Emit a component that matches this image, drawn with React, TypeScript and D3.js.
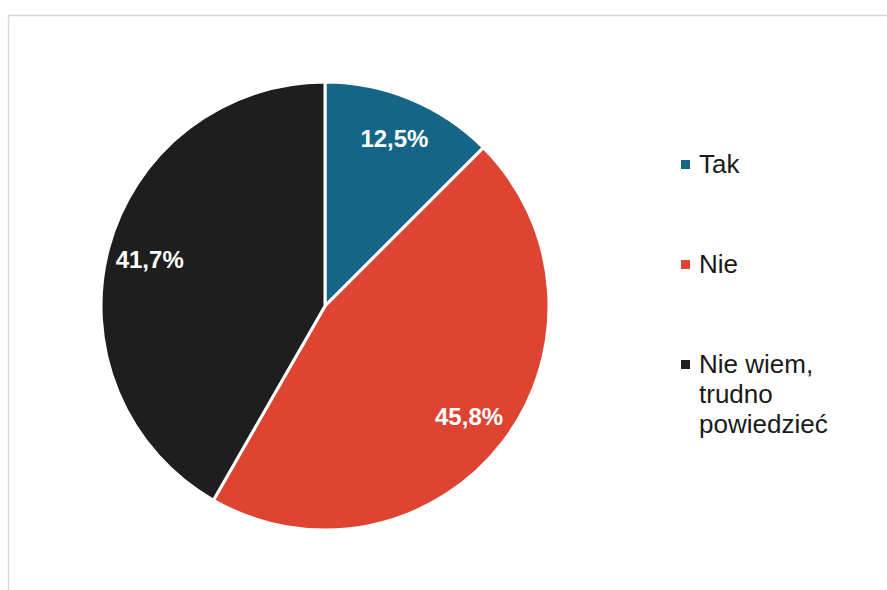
import React from "react";
import * as d3 from "d3";

const categories: string[] = ["Tak", "Nie", "Nie wiem, trudno powiedzieć"];
const legendLines: string[][] = [["Tak"], ["Nie"], ["Nie wiem,", "trudno", "powiedzieć"]];
const values: number[] = [12.5, 45.8, 41.7];
const labels: string[] = ["12,5%", "45,8%", "41,7%"];
const colors: string[] = ["#146586", "#de4432", "#1e1e1e"];

const W = 887;
const H = 590;
const cx = 325;
const cy = 306;
const R = 224;

export default function App() {
  const pie = d3.pie<number>().sort(null).value((d) => d)(values);
  const arc = d3.arc<d3.PieArcDatum<number>>().innerRadius(0).outerRadius(R);
  const labelArc = d3.arc<d3.PieArcDatum<number>>().innerRadius(R * 0.81).outerRadius(R * 0.81);
  const legendY = d3.scalePoint<number>().domain([0, 1, 2]).range([173, 373]);
  const font = "'Liberation Sans', Arial, sans-serif";

  return (
    <svg
      width={W}
      height={H}
      style={{ position: "absolute", left: 0, top: 0 }}
      fontFamily={font}
    >
      <rect x={0} y={0} width={W} height={H} fill="#fff" />
      <rect x={8.5} y={15.5} width={W + 20} height={H + 20} fill="none" stroke="#d9d9d9" strokeWidth={1.5} />
      <g transform={`translate(${cx},${cy})`}>
        {pie.map((p, i) => (
          <path key={categories[i]} d={arc(p) || ""} fill={colors[i]} stroke="#fff" strokeWidth={3} strokeLinejoin="miter" />
        ))}
        {pie.map((p, i) => {
          const [x, y] = labelArc.centroid(p);
          return (
            <text
              key={"l" + i}
              x={x}
              y={y}
              dy="0.35em"
              textAnchor="middle"
              fill="#fff"
              fontWeight="bold"
              fontSize={24}
            >
              {labels[i]}
            </text>
          );
        })}
      </g>
      <g>
        {categories.map((c, i) => {
          const by = legendY(i) as number;
          return (
            <g key={"lg" + c}>
              <rect x={681} y={by - 13} width={9} height={9} fill={colors[i]} />
              {legendLines[i].map((ln, j) => (
                <text key={j} x={699} y={by + j * 29.8} fontSize={26} fill="#1a1a1a">
                  {ln}
                </text>
              ))}
            </g>
          );
        })}
      </g>
    </svg>
  );
}
